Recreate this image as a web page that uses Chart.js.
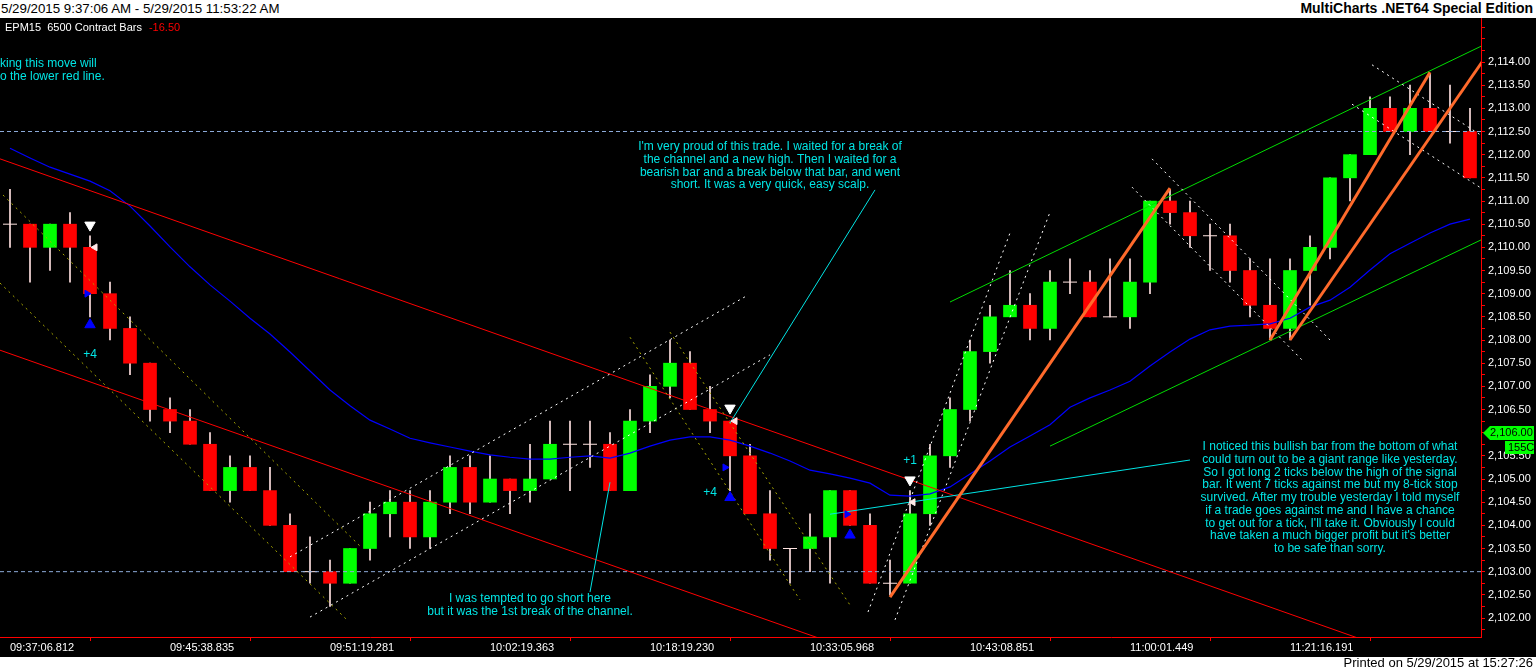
<!DOCTYPE html>
<html>
<head>
<meta charset="utf-8">
<script src="https://cdn.jsdelivr.net/npm/chart.js@4.4.0/dist/chart.umd.min.js"></script>
<style>
  html, body { margin: 0; padding: 0; background: #fff; width: 1536px; height: 670px; overflow: hidden; font-family: "Liberation Sans", Arial, sans-serif; }
  #top { height: 18px; position: relative; font-size: 13.3px; line-height: 17px; color: #000; }
  #top .l { position: absolute; left: 1px; top: 0; }
  #top .r { position: absolute; right: 3px; top: 0; font-weight: bold; font-size: 14px; }
  #wrap { width: 1536px; height: 639px; background: #000; }
  #foot { height: 13px; position: relative; font-size: 13px; line-height: 12px; color: #000; }
  #foot span { position: absolute; right: 3px; top: 0; }
</style>
</head>
<body>
<div id="top"><span class="l">5/29/2015 9:37:06 AM - 5/29/2015 11:53:22 AM</span><span class="r">MultiCharts .NET64 Special Edition</span></div>
<div id="wrap"><canvas id="myChart" width="1536" height="639"></canvas></div>
<div id="foot"><span>Printed on 5/29/2015 at 15:27:26</span></div>
<script>
// bar times shown on the axis (every 8th bar)
const timeLabels = ['09:37:06.812', '09:45:38.835', '09:51:19.281', '10:02:19.363', '10:18:19.230',
  '10:33:05.968', '10:43:08.851', '11:00:01.449', '11:21:16.191', ''];

const opens = [2110.5, 2110.5, 2110.0, 2110.5, 2110.0, 2109.0, 2108.25, 2107.5, 2106.5, 2106.25,
  2105.75, 2104.75, 2105.25, 2104.75, 2104.0, 2103.0, 2103.0, 2102.75, 2103.5, 2104.25,
  2104.5, 2103.75, 2104.5, 2105.25, 2104.5, 2105.0, 2104.75, 2105.0, 2105.75, 2105.75,
  2105.75, 2104.75, 2106.25, 2107.0, 2107.5, 2106.5, 2106.25, 2105.5, 2104.25, 2103.5,
  2103.5, 2103.75, 2104.75, 2104.0, 2102.75, 2102.75, 2104.25, 2105.5, 2106.5, 2107.75,
  2108.5, 2108.75, 2108.25, 2109.25, 2109.25, 2108.5, 2108.5, 2109.25, 2111.0, 2110.75,
  2110.25, 2110.25, 2109.5, 2108.75, 2108.25, 2109.5, 2110.0, 2111.5, 2112.0, 2113.0,
  2112.5, 2113.0, 2112.5, 2112.5];
const highs = [2111.25, 2110.5, 2110.5, 2110.75, 2110.25, 2109.25, 2108.5, 2107.5, 2106.75, 2106.5,
  2106.0, 2105.5, 2105.5, 2105.25, 2104.25, 2103.75, 2103.25, 2103.5, 2104.5, 2104.75,
  2104.75, 2104.75, 2105.5, 2105.5, 2105.5, 2105.0, 2105.75, 2106.25, 2106.25, 2106.25,
  2106.0, 2106.5, 2107.25, 2108.0, 2107.75, 2107.0, 2106.25, 2105.75, 2104.75, 2103.5,
  2104.25, 2104.75, 2104.75, 2104.25, 2103.25, 2104.75, 2105.75, 2106.75, 2108.0, 2108.75,
  2109.5, 2109.0, 2109.5, 2109.75, 2109.5, 2109.75, 2109.75, 2111.0, 2111.25, 2111.0,
  2110.5, 2110.5, 2109.75, 2109.75, 2109.75, 2110.25, 2111.5, 2112.0, 2113.25, 2113.25,
  2113.5, 2113.75, 2113.5, 2113.0];
const lows = [2110.0, 2109.25, 2109.5, 2109.25, 2108.5, 2108.0, 2107.25, 2106.25, 2106.0, 2105.75,
  2104.75, 2104.5, 2104.75, 2104.0, 2103.0, 2102.75, 2102.25, 2102.75, 2103.25, 2103.75,
  2103.5, 2103.5, 2104.25, 2104.25, 2104.5, 2104.25, 2104.5, 2105.0, 2104.75, 2105.25,
  2104.75, 2104.75, 2106.0, 2106.75, 2106.5, 2106.0, 2104.75, 2104.25, 2103.25, 2102.75,
  2103.0, 2102.75, 2104.0, 2102.75, 2102.5, 2102.75, 2104.0, 2105.25, 2106.25, 2107.5,
  2108.5, 2108.0, 2108.0, 2109.0, 2108.5, 2108.5, 2108.25, 2109.0, 2110.5, 2110.0,
  2109.5, 2109.25, 2108.5, 2108.0, 2108.0, 2108.75, 2109.75, 2111.0, 2112.0, 2112.5,
  2112.0, 2112.5, 2112.25, 2111.5];
const closes = [2110.5, 2110.0, 2110.5, 2110.0, 2109.0, 2108.25, 2107.5, 2106.5, 2106.25, 2105.75,
  2104.75, 2105.25, 2104.75, 2104.0, 2103.0, 2103.0, 2102.75, 2103.5, 2104.25, 2104.5,
  2103.75, 2104.5, 2105.25, 2104.5, 2105.0, 2104.75, 2105.0, 2105.75, 2105.75, 2105.75,
  2104.75, 2106.25, 2107.0, 2107.5, 2106.5, 2106.25, 2105.5, 2104.25, 2103.5, 2103.5,
  2103.75, 2104.75, 2104.0, 2102.75, 2102.75, 2104.25, 2105.5, 2106.5, 2107.75, 2108.5,
  2108.75, 2108.25, 2109.25, 2109.25, 2108.5, 2108.5, 2109.25, 2111.0, 2110.75, 2110.25,
  2110.25, 2109.5, 2108.75, 2108.25, 2109.5, 2110.0, 2111.5, 2112.0, 2113.0, 2112.5,
  2113.0, 2112.5, 2112.5, 2111.5];

// blue moving average
const avgLine = [2112.14, 2111.93, 2111.73, 2111.58, 2111.43, 2111.22, 2110.89, 2110.46, 2110.01, 2109.58,
  2109.19, 2108.84, 2108.47, 2108.13, 2107.74, 2107.33, 2106.92, 2106.58, 2106.27, 2106.08,
  2105.88, 2105.78, 2105.69, 2105.60, 2105.52, 2105.47, 2105.43, 2105.43, 2105.47, 2105.50,
  2105.45, 2105.56, 2105.71, 2105.84, 2105.91, 2105.91, 2105.84, 2105.71, 2105.56, 2105.39,
  2105.19, 2105.11, 2105.02, 2104.91, 2104.65, 2104.63, 2104.68, 2104.83, 2105.11, 2105.39,
  2105.69, 2105.93, 2106.17, 2106.55, 2106.75, 2106.92, 2107.11, 2107.44, 2107.74, 2108.02,
  2108.22, 2108.30, 2108.32, 2108.35, 2108.47, 2108.71, 2108.86, 2109.14, 2109.51, 2109.86,
  2110.09, 2110.31, 2110.50, 2110.61];

// drawn lines, as [bar, price] end points
const redLines = [[[-0.5, 2111.91], [73.55, 2100.63]], [[-0.5, 2107.78], [73.55, 2096.54]]];
const greenLines = [[[47, 2108.82], [73.55, 2114.34]], [[52, 2105.71], [73.55, 2110.16]]];
const orangeLines = [[[44, 2102.45], [58, 2111.28]], [[63, 2108.0], [71, 2113.78]], [[64, 2108.0], [73.6, 2114.0]]];
const whiteDashed = [
  [[14, 2103.32], [36.9, 2108.97]], [[15, 2102.02], [38, 2107.68]],
  [[42.9, 2102.13], [50, 2110.31]], [[44.25, 2101.96], [52, 2110.76]],
  [[56.1, 2111.30], [64.6, 2107.57]], [[57.1, 2111.91], [66, 2108.0]],
  [[68.1, 2113.94], [73.55, 2112.42]], [[67.1, 2113.09], [73.55, 2111.28]]];
const oliveDashed = [[[-0.35, 2111.13], [17.6, 2103.51]], [[-0.5, 2109.23], [16.85, 2101.96]],
  [[31, 2108.06], [39.5, 2102.39]], [[33, 2108.17], [42, 2102.28]]];
const cyanLines = [[[29, 2102.56], [30, 2104.93]], [[36, 2106.21], [43.25, 2111.24]], [[41, 2104.24], [59, 2105.41]]];
const refLevels = [2112.5, 2103.0];

// trade markers
const sellArrows = [[4, 2110.48], [36, 2106.53], [45, 2104.98]];
const buyArrows = [[4, 2108.33], [36, 2104.6], [42, 2103.79]];
const exitMarks = [[4.25, 2110.0], [36.25, 2106.25], [45.15, 2104.5]];
const entryMarks = [[3.85, 2109.0], [35.75, 2105.25], [41.85, 2104.24]];
const tradeTags = [['+4', 4, 2107.68], ['+4', 35, 2104.7], ['+1', 45, 2105.39]];

const noteTopLeft = ['king this move will', 'o the lower red line.'];
const noteProud = ["I'm very proud of this trade. I waited for a break of", 'the channel and a new high. Then I waited for a',
  'bearish bar and a break below that bar, and went', 'short. It was a very quick, easy scalp.'];
const noteTempted = ['I was tempted to go short here', 'but it was the 1st break of the channel.'];
const noteBullish = ['I noticed this bullish bar from the bottom of what', 'could turn out to be a giant range like yesterday.',
  'So I got long 2 ticks below the high of the signal', 'bar. It went 7 ticks against me but my 8-tick stop',
  'survived. After my trouble yesterday I told myself', 'if a trade goes against me and I have a chance',
  "to get out for a tick, I'll take it. Obviously I could", "have taken a much bigger profit but it's better",
  'to be safe than sorry.'];

const FONT = '"Liberation Sans", Arial, sans-serif';
const CYAN = '#00e5e5';
const pts = list => list.map(([x, y]) => ({x, y}));

function segment(points, color, width, dash, order) {
  return {type: 'line', data: pts(points), borderColor: color, borderWidth: width,
    borderDash: dash || [], pointRadius: 0, fill: false, order: order || 1};
}

function markers(list, color, style, rot, r, order) {
  return {type: 'scatter', data: pts(list), pointStyle: style, rotation: rot, pointRadius: r,
    backgroundColor: color, borderColor: color, borderWidth: 1, order: order || 0};
}

const datasets = [];
datasets.push(markers(sellArrows, '#ffffff', 'triangle', 180, 6));
datasets.push(markers(buyArrows, '#0000ff', 'triangle', 0, 6));
datasets.push(markers(exitMarks, '#ffe8e8', 'triangle', -90, 4));
datasets.push(markers(entryMarks, '#0000ff', 'triangle', 90, 4));
orangeLines.forEach(l => datasets.push(segment(l, '#ff6a2b', 3)));
cyanLines.forEach(l => datasets.push(segment(l, CYAN, 1)));
whiteDashed.forEach(l => datasets.push(segment(l, '#ffffff', 1, [2, 4])));
oliveDashed.forEach(l => datasets.push(segment(l, '#a8a800', 1, [2, 4])));
redLines.forEach(l => datasets.push(segment(l, '#ff0000', 1)));
greenLines.forEach(l => datasets.push(segment(l, '#00dd00', 1)));
refLevels.forEach(p => datasets.push(segment([[-0.5, p], [73.55, p]], '#8caad8', 1, [4, 3])));
datasets.push({type: 'line', data: avgLine.map((v, i) => ({x: i, y: v})), borderColor: '#0000ff',
  borderWidth: 1.2, pointRadius: 0, fill: false, order: 1});

// doji bars
const dojis = [];
opens.forEach((o, i) => { if (o === closes[i]) dojis.push({x: i, y: o}); });
datasets.push({type: 'scatter', data: dojis, pointStyle: 'line', pointRadius: 7,
  borderColor: '#ffe4e1', borderWidth: 1, order: 2});

// candle bodies and wicks
const bodies = [];
opens.forEach((o, i) => { if (o !== closes[i]) bodies.push({x: i, y: [o, closes[i]]}); });
datasets.push({type: 'bar', data: bodies, barThickness: 13, grouped: false, borderWidth: 0,
  backgroundColor: c => (c.raw && c.raw.y[1] > c.raw.y[0]) ? '#00ff00' : '#ff0000', order: 3});
datasets.push({type: 'bar', data: lows.map((l, i) => ({x: i, y: [l, highs[i]]})), barThickness: 1,
  grouped: false, borderWidth: 0, backgroundColor: '#ffe0e0', order: 4});

const notes = [
  {lines: noteTopLeft, x: -0.5, y: 2113.96, align: 'left'},
  {lines: noteProud, x: 38, y: 2112.17, align: 'center'},
  {lines: noteTempted, x: 26, y: 2102.41, align: 'center'},
  {lines: noteBullish, x: 66, y: 2105.69, align: 'center'}
];

const overlay = {
  id: 'overlay',
  afterDatasetsDraw(chart) {
    const {ctx, chartArea: a, scales: {x, y}} = chart;
    ctx.save();
    ctx.beginPath();
    ctx.rect(a.left, a.top, a.right - a.left, a.bottom - a.top);
    ctx.clip();
    ctx.font = '12px ' + FONT;
    ctx.textBaseline = 'middle';
    ctx.fillStyle = CYAN;
    notes.forEach(n => {
      ctx.textAlign = n.align;
      const px = n.align === 'left' ? a.left : x.getPixelForValue(n.x);
      n.lines.forEach((t, k) => ctx.fillText(t, px, y.getPixelForValue(n.y) + k * 12.7));
    });
    ctx.font = '12px ' + FONT;
    ctx.textAlign = 'center';
    tradeTags.forEach(([t, bx, p]) => ctx.fillText(t, x.getPixelForValue(bx), y.getPixelForValue(p)));
    // symbol line
    ctx.font = '11px ' + FONT;
    ctx.textAlign = 'left';
    ctx.fillStyle = '#ffffff';
    const sym = 'EPM15  6500 Contract Bars';
    ctx.fillText(sym, a.left + 5, a.top + 10);
    ctx.fillStyle = '#ff0000';
    ctx.fillText('-16.50', a.left + 5 + ctx.measureText(sym).width + 7, a.top + 10);
    ctx.restore();
  },
  afterDraw(chart) {
    const {ctx, chartArea: a, scales: {y}} = chart;
    const py = Math.round(y.getPixelForValue(2106));
    const l = a.right + 2;
    ctx.save();
    ctx.fillStyle = '#00ff00';
    ctx.beginPath();
    ctx.moveTo(l, py);
    ctx.lineTo(l + 7, py - 7);
    ctx.lineTo(l + 51, py - 7);
    ctx.lineTo(l + 51, py + 7);
    ctx.lineTo(l + 7, py + 7);
    ctx.closePath();
    ctx.fill();
    ctx.fillRect(l + 22, py + 8, 29, 13);
    ctx.fillStyle = '#000';
    ctx.font = '11px ' + FONT;
    ctx.textBaseline = 'middle';
    ctx.textAlign = 'left';
    ctx.fillText('2,106.00', l + 7, py);
    ctx.fillText('155C', l + 25, py + 15);
    ctx.restore();
  }
};

const ctx = document.getElementById('myChart').getContext('2d');
const myChart = new Chart(ctx, {
  type: 'bar',
  data: {datasets},
  plugins: [overlay],
  options: {
    responsive: false,
    animation: false,
    layout: {padding: 0, autoPadding: false},
    plugins: {legend: {display: false}, tooltip: {enabled: false}},
    scales: {
      x: {
        type: 'linear', min: -0.5, max: 73.55, offset: false,
        border: {color: '#ff0000', width: 1},
        grid: {drawOnChartArea: false, tickLength: 4, tickColor: '#ff0000'},
        afterBuildTicks: s => { s.ticks = timeLabels.map((t, k) => ({value: k * 8})); },
        afterFit: s => { s.height = 20; s.paddingLeft = 0; s.paddingRight = 0; },
        ticks: {
          color: '#ffffff', font: {family: FONT, size: 11}, align: 'start',
          maxRotation: 0, autoSkip: false, padding: 0,
          callback: (v, k) => timeLabels[k]
        }
      },
      y: {
        type: 'linear', position: 'right', min: 2101.59, max: 2114.95,
        border: {color: '#ff0000', width: 1},
        grid: {drawOnChartArea: false, tickLength: 4, tickColor: '#ff0000'},
        afterBuildTicks: s => {
          const t = [];
          for (let v = 2101.75; v <= 2114.75; v += 0.25) t.push({value: v});
          s.ticks = t;
        },
        afterFit: s => { s.width = 55; s.paddingTop = 0; s.paddingBottom = 0; },
        ticks: {
          color: '#ffffff', font: {family: FONT, size: 11}, padding: 3, autoSkip: false,
          callback: v => (v % 0.5 === 0 && v >= 2102 && v <= 2114)
            ? v.toLocaleString('en-US', {minimumFractionDigits: 2, maximumFractionDigits: 2}) : ''
        }
      }
    }
  }
});
</script>
</body>
</html>
